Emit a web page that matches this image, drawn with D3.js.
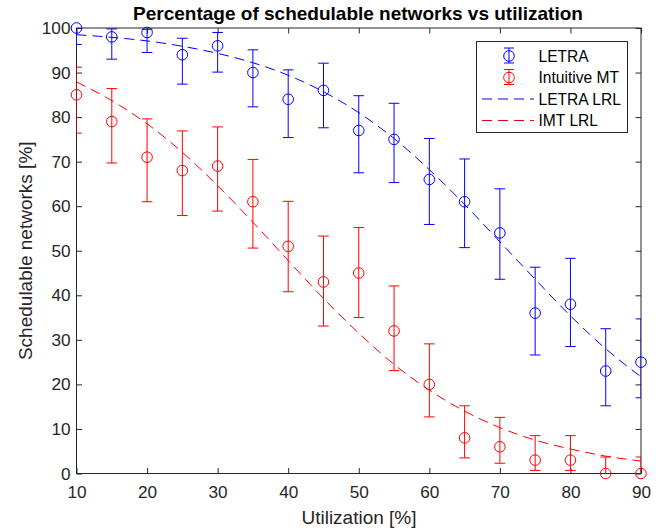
<!DOCTYPE html>
<html>
<head>
<meta charset="utf-8">
<script src="https://cdn.jsdelivr.net/npm/d3@7"></script>
<style>
  html, body { margin: 0; padding: 0; background: #fff; }
  #chart { width: 671px; height: 531px; }
  text { font-family: 'Liberation Sans', Arial, sans-serif; fill: #262626; }
</style>
</head>
<body>
<div id="chart"></div>
<script>
// Data
const utilization = [10, 15, 20, 25, 30, 35, 40, 45, 50, 55, 60, 65, 70, 75, 80, 85, 90];

const letraMean  = [100, 98, 99, 94, 96, 90, 84, 86, 77, 75, 66, 61, 54, 36, 38, 23, 25];
const letraLow   = [96.3, 93.0, 94.5, 87.4, 90.1, 82.3, 75.4, 77.6, 67.5, 65.3, 55.9, 50.7, 43.6, 26.6, 28.5, 15.2, 17.0];
const letraHigh  = [100, 99.8, 99.7, 97.7, 99.0, 95.1, 90.6, 92.1, 84.8, 83.1, 75.2, 70.6, 63.9, 46.3, 48.3, 32.5, 34.7];

const imtMean    = [85, 79, 71, 68, 69, 61, 51, 43, 45, 32, 20, 8, 6, 3, 3, 0, 0];
const imtLow     = [76.4, 69.7, 61.0, 57.9, 58.9, 50.6, 40.8, 33.1, 35.0, 23.1, 12.7, 3.5, 2.3, 0.7, 0.7, -3.7, -3.7];
const imtHigh    = [91.2, 86.4, 79.6, 76.9, 77.8, 70.5, 61.1, 53.3, 55.2, 42.1, 29.1, 15.2, 12.6, 8.5, 8.5, 3.7, 3.7];

// fitted regression lines (LRL), values read at each utilization step
const letraLRL   = [98.5, 97.9, 97.1, 95.9, 94.3, 92.2, 89.4, 85.7, 81.0, 75.2, 68.2, 60.4, 52.0, 43.6, 35.4, 28.0, 21.7];
const imtLRL     = [87.9, 83.7, 78.5, 72.1, 64.6, 56.4, 47.8, 39.3, 31.5, 24.5, 18.7, 14.0, 10.3, 7.5, 5.5, 3.9, 2.8];

const xTicks = [10, 20, 30, 40, 50, 60, 70, 80, 90];
const yTicks = [0, 10, 20, 30, 40, 50, 60, 70, 80, 90, 100];

const legendLabels = ['LETRA', 'Intuitive MT', 'LETRA LRL', 'IMT LRL'];

function renderChart(containerSelector = '#chart') {
  const container = d3.select(containerSelector);
  container.html('');
  const width = 671, height = 531;

  const svg = container.append('svg')
    .attr('width', width)
    .attr('height', height);

  const plot = { left: 76.5, right: 641, top: 28, bottom: 473.5 };
  const AXIS_COLOR = '#262626';
  const BLUE = '#0000ff';
  const RED = '#ff0000';
  const TICK_LEN = 5.5;
  const CAP = 5.3;
  const MARKER_R = 5.3;
  const DASH = '10,6';
  const TICK_FONT = '17.2px';
  const LABEL_FONT = '19px';
  const LEGEND_FONT = '15.6px';

  const x = d3.scaleLinear().domain([10, 90]).range([plot.left, plot.right]);
  const y = d3.scaleLinear().domain([0, 100]).range([plot.bottom, plot.top]);

  svg.append('defs').append('clipPath')
    .attr('id', 'plot-clip')
    .append('rect')
    .attr('x', plot.left).attr('y', plot.top)
    .attr('width', plot.right - plot.left)
    .attr('height', plot.bottom - plot.top);

  // 1. Axes (box with inward ticks on all sides)
  const axisG = svg.append('g').attr('class', 'axes');
  const inX = d3.axisBottom(x).tickValues(xTicks).tickSizeInner(-TICK_LEN).tickSizeOuter(0).tickPadding(12);
  const inY = d3.axisLeft(y).tickValues(yTicks).tickSizeInner(-TICK_LEN).tickSizeOuter(0).tickPadding(6);

  axisG.append('g')
    .attr('transform', `translate(0,${plot.bottom})`)
    .call(inX);
  axisG.append('g')
    .attr('transform', `translate(${plot.left},0)`)
    .call(inY);
  axisG.append('g')
    .attr('transform', `translate(0,${plot.top})`)
    .call(d3.axisTop(x).tickValues(xTicks).tickSizeInner(-TICK_LEN).tickSizeOuter(0).tickFormat(''));
  axisG.append('g')
    .attr('transform', `translate(${plot.right},0)`)
    .call(d3.axisRight(y).tickValues(yTicks).tickSizeInner(-TICK_LEN).tickSizeOuter(0).tickFormat(''));

  axisG.selectAll('.domain').remove();
  axisG.selectAll('.tick line').attr('stroke', AXIS_COLOR).attr('stroke-width', 1);
  axisG.selectAll('.tick text')
    .style('font-family', "'Liberation Sans', Arial, sans-serif")
    .style('font-size', TICK_FONT)
    .attr('fill', AXIS_COLOR);

  axisG.append('rect')
    .attr('x', plot.left).attr('y', plot.top)
    .attr('width', plot.right - plot.left)
    .attr('height', plot.bottom - plot.top)
    .attr('fill', 'none')
    .attr('stroke', AXIS_COLOR)
    .attr('stroke-width', 1);

  // 2. Labels and title
  svg.append('text')
    .attr('x', 358)
    .attr('y', 19.5)
    .attr('text-anchor', 'middle')
    .style('font-size', LABEL_FONT)
    .style('font-weight', '700')
    .style('fill', '#000')
    .text('Percentage of schedulable networks vs utilization');

  svg.append('text')
    .attr('x', 359)
    .attr('y', 524)
    .attr('text-anchor', 'middle')
    .style('font-size', LABEL_FONT)
    .text('Utilization [%]');

  svg.append('text')
    .attr('transform', `translate(31.5,${(plot.top + plot.bottom) / 2}) rotate(-90)`)
    .attr('text-anchor', 'middle')
    .style('font-size', LABEL_FONT)
    .text('Schedulable networks [%]');

  // 3. Series
  const series = [
    { mean: letraMean, low: letraLow, high: letraHigh, fit: letraLRL, color: BLUE },
    { mean: imtMean, low: imtLow, high: imtHigh, fit: imtLRL, color: RED }
  ];

  const line = d3.line()
    .x(d => x(d[0]))
    .y(d => y(d[1]))
    .curve(d3.curveMonotoneX);

  series.forEach(s => {
    const pts = utilization.map((u, i) => ({ u, m: s.mean[i], lo: s.low[i], hi: s.high[i] }));

    const bars = svg.append('g')
      .attr('clip-path', 'url(#plot-clip)')
      .attr('stroke', s.color)
      .attr('stroke-width', 1)
      .attr('fill', 'none');

    bars.selectAll('line.v').data(pts).enter().append('line')
      .attr('class', 'v')
      .attr('x1', d => x(d.u)).attr('x2', d => x(d.u))
      .attr('y1', d => y(d.lo)).attr('y2', d => y(d.hi));
    bars.selectAll('line.lo').data(pts).enter().append('line')
      .attr('class', 'lo')
      .attr('x1', d => x(d.u) - CAP).attr('x2', d => x(d.u) + CAP)
      .attr('y1', d => y(d.lo)).attr('y2', d => y(d.lo));
    bars.selectAll('line.hi').data(pts).enter().append('line')
      .attr('class', 'hi')
      .attr('x1', d => x(d.u) - CAP).attr('x2', d => x(d.u) + CAP)
      .attr('y1', d => y(d.hi)).attr('y2', d => y(d.hi));

    // markers are not clipped
    svg.append('g').selectAll('circle').data(pts).enter().append('circle')
      .attr('cx', d => x(d.u))
      .attr('cy', d => y(d.m))
      .attr('r', MARKER_R)
      .attr('fill', 'none')
      .attr('stroke', s.color)
      .attr('stroke-width', 1);

    svg.append('path')
      .datum(utilization.map((u, i) => [u, s.fit[i]]))
      .attr('d', line)
      .attr('fill', 'none')
      .attr('stroke', s.color)
      .attr('stroke-width', 1)
      .attr('stroke-dasharray', DASH);
  });

  // 4. Legend
  const leg = { x: 476.5, y: 41.5, w: 151, h: 91 };
  const legend = svg.append('g').attr('class', 'legend');
  legend.append('rect')
    .attr('x', leg.x).attr('y', leg.y)
    .attr('width', leg.w).attr('height', leg.h)
    .attr('fill', '#fff')
    .attr('stroke', AXIS_COLOR)
    .attr('stroke-width', 1);

  const rowY = [56, 77.5, 99, 120.5];
  const legColors = [BLUE, RED, BLUE, RED];

  legendLabels.forEach((label, i) => {
    const cy = rowY[i];
    const c = legColors[i];
    if (i < 2) {
      const cx = 509;
      legend.append('line')
        .attr('x1', cx).attr('x2', cx).attr('y1', cy - 8).attr('y2', cy + 7)
        .attr('stroke', c).attr('stroke-width', 1);
      legend.append('line')
        .attr('x1', cx - 5).attr('x2', cx + 5).attr('y1', cy - 8).attr('y2', cy - 8)
        .attr('stroke', c).attr('stroke-width', 1);
      legend.append('line')
        .attr('x1', cx - 5).attr('x2', cx + 5).attr('y1', cy + 7).attr('y2', cy + 7)
        .attr('stroke', c).attr('stroke-width', 1);
      legend.append('circle')
        .attr('cx', cx).attr('cy', cy).attr('r', MARKER_R)
        .attr('fill', 'none').attr('stroke', c).attr('stroke-width', 1);
    } else {
      legend.append('line')
        .attr('x1', 482).attr('x2', 534).attr('y1', cy).attr('y2', cy)
        .attr('stroke', c).attr('stroke-width', 1)
        .attr('stroke-dasharray', DASH);
    }
    legend.append('text')
      .attr('x', 538.5)
      .attr('y', cy)
      .attr('dy', '0.36em')
      .style('font-size', LEGEND_FONT)
      .style('fill', '#000')
      .text(label);
  });
}

if (document.readyState === 'loading') {
  document.addEventListener('DOMContentLoaded', () => renderChart('#chart'));
} else {
  renderChart('#chart');
}
</script>
</body>
</html>
